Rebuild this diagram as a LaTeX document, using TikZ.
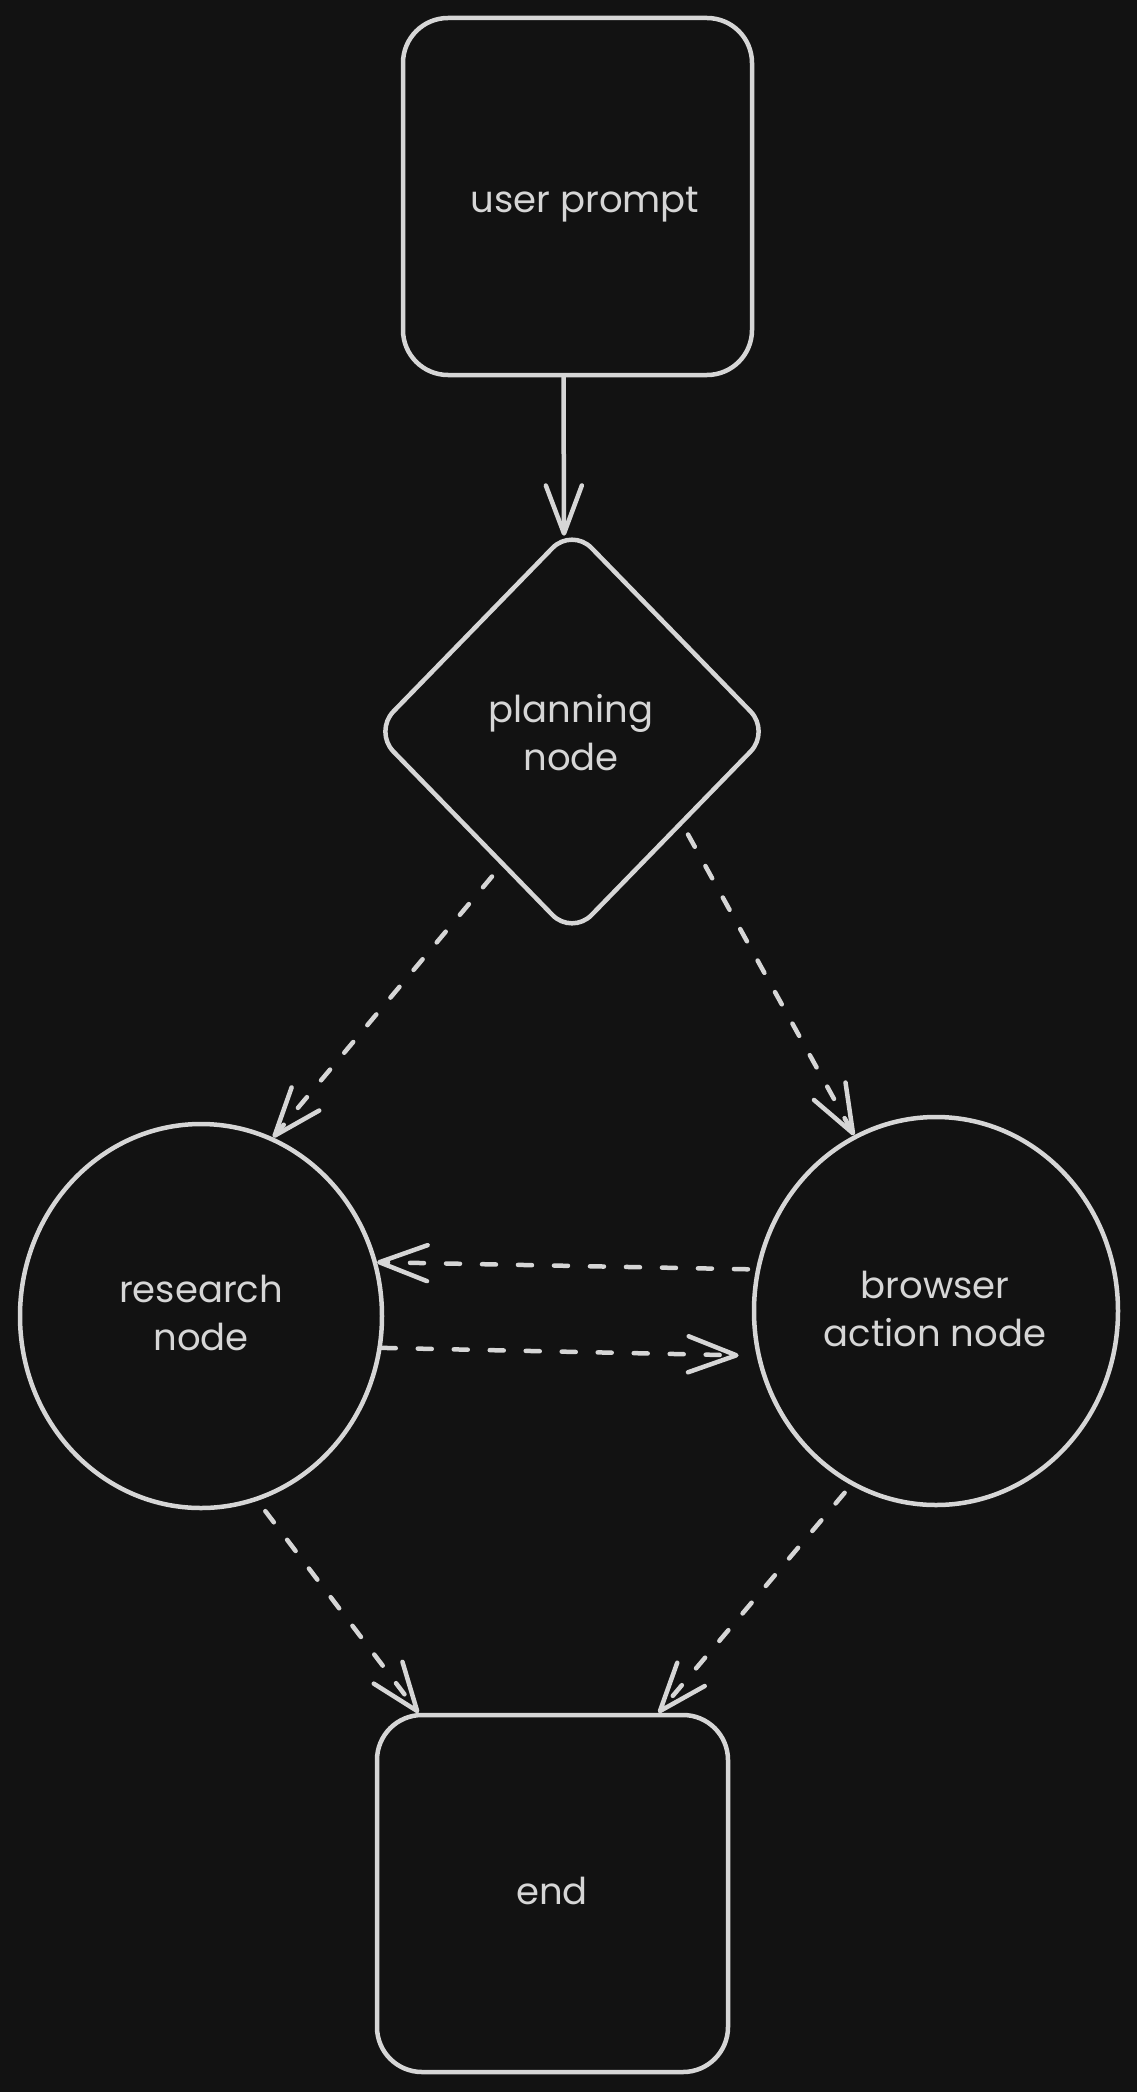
\documentclass[tikz,border=0pt]{standalone}
\usepackage{fontspec}
\setmainfont{Poppins}
\usetikzlibrary{shapes.geometric,arrows.meta,calc}
\definecolor{bg}{HTML}{121212}
\definecolor{ink}{HTML}{D6D6D6}
\newcommand\twoline[2]{\vtop{\halign{\hfil##\hfil\cr#1\cr#2\cr}}}
\begin{document}
\begin{tikzpicture}[x=1pt,y=-1pt,
  boxshape/.style={draw=ink, line width=4.5pt, rounded corners=45pt, minimum width=349pt, minimum height=357pt, inner sep=0pt},
  diashape/.style={diamond, draw=ink, line width=4.5pt, rounded corners=28pt, minimum width=398pt, minimum height=409pt, inner sep=0pt},
  ovalshape/.style={ellipse, draw=ink, line width=4.5pt, inner sep=0pt},
  lbl/.style={text=ink, inner sep=0pt, font=\fontsize{37pt}{48pt}\selectfont},
  link/.style={draw=ink, line width=4.5pt, line cap=round, -{Straight Barb[length=48pt,width=36pt,line cap=round,line join=round]}},
  dlink/.style={link, dash pattern=on 14pt off 22pt},
]
\fill[bg] (0,0) rectangle (1137,2092);
\useasboundingbox (0,0) rectangle (1137,2092);

\node[boxshape] (up) at (577.5,196.5) {};
\node[diashape] (plan) at (572,731.5) {};
\node[ovalshape, minimum width=362pt, minimum height=384pt] (res) at (201,1316) {};
\node[ovalshape, minimum width=364pt, minimum height=388pt] (brw) at (936,1311) {};
\node[boxshape, minimum width=351pt] (endb) at (552.5,1893.5) {};

\node[lbl, anchor=base] (t1) at (585,213) {user prompt};
\node[lbl, anchor=base] (t2) at (571,722) {\twoline{planning}{node}};
\node[lbl, anchor=base] (t3) at (201,1302) {\twoline{research}{node}};
\node[lbl, anchor=base] (t4) at (935,1298) {\twoline{browser}{action node}};
\node[lbl, anchor=base] (t5) at (552,1904) {end};

\coordinate (pa) at ($(plan.center)+(-80,145)$);
\coordinate (pb) at ($(plan.center)+(116,103)$);

\draw[link] ([xshift=-14pt]up.south) -- ([xshift=-8pt,yshift=-11pt]plan.north);
\draw[dlink] (pa) -- (res.68);
\draw[dlink] (pb) -- (brw.115);
\draw[dlink, shorten <=8pt] (brw.167) -- (res.17);
\draw[dlink, shorten >=18pt] (res.-10) -- (brw.194);
\draw[dlink, shorten <=13pt] (res.-73) -- ([xshift=-134pt]endb.north);
\draw[dlink, shorten <=10pt] (brw.244) -- ([xshift=106pt]endb.north);
\end{tikzpicture}
\end{document}
